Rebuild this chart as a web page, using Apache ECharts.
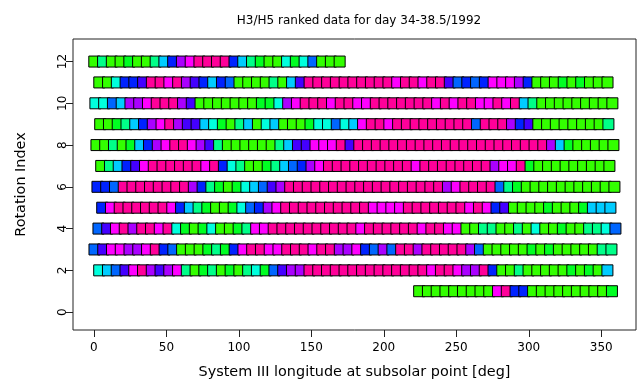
<!DOCTYPE html>
<html>
<head>
<meta charset="utf-8">
<script src="https://cdn.jsdelivr.net/npm/echarts@6/dist/echarts.min.js"></script>
<style>
  html, body { margin: 0; padding: 0; background: #fff; }
  #chart { width: 637px; height: 384px; }
</style>
</head>
<body>
<div id="chart"></div>
<script>
// H3/H5 ratio ranks (1 = lowest ... 11 = highest), one array per Jupiter rotation,
// samples every 10 minutes starting at the listed subsolar System III longitude.
const rotationIndex = [1, 2, 3, 4, 5, 6, 7, 8, 9, 10, 11, 12];
const rotationStartLon = [224.4, 3.66, 0.4, 3.14, 5.73, 2.45, 5.04, 1.76, 4.35, 1.04, 3.73, 0.28];
const lonStep = 6.045; // degrees of rotation per sample

const rot1 = [1,1,1,1,1,1,1,1,1,10,11,7,7,1,1,1,1,1,1,1,1,1,2];
const rot2 = [4,5,6,8,10,11,9,8,9,10,3,1,2,3,1,2, 1,3,4,2,6,8,9,9,11,11,11,11,11,11,11,11,
  11,11,11,11,11,11,10,11,11,10,9,9,11,7,1,1,3,1, 1,1,1,1,2,1,2,1,5];
const rot3 = [6,8,10,10,9,9,10,11,7,6,1,1,1,2,3,2, 7,10,11,11,10,10,11,11,11,10,11,11,9,9,10,7,6,
  9,6,11,11,9,11,11,11,11,11,9,6, 1,1,1,1,1,2,1,2,1,1,1,1,1,3,3];
const rot4 = [6,8,10,11,9,11,11,10,11,4,2,1,2,4,1,1, 2,3,10,10,11,11,11,11,11,11,11,11,11,11,
  10,11,11,11,11,11,11,10,11,11,10,10, 1,1,3,3,1,1,3,1, 4,1,1,2,1,1,3,3,4,6];
const rot5 = [7,10,11,11,11,11,11,11,10,7,5,3,2,1,1,2, 4,6,7,9,10,11,11,11,11,11,11,11,11,11,11,10,10,
  10,10,11,11,11,11,11,11,11,10,11,10,7,8,1,1, 1,1,2,1,1,1,2,5,5,5];
const rot6 = [7,7,6,11,11,11,11,11,11,11,11,9,7,3,2,1, 2,4,5,6,8,9,11,11,11,11,11,11,11,11,11,11,11,
  11,11,11,11,11,11,11,9,10,11,11,11,11,6,3,2,1, 1,1,1,1,1,1,1,1,1,1];
const rot7 = [1,3,5,7,8,10,11,11,11,11,11,11,10,11,7, 4,3,1,1,2,3,5,6,7,9,10,11,11,11,11,11,11,11,
  11,11,11,10,11,11,11,11,11,11,11,11,9,10,10,11, 2,1,1,1,1,1,1,1,1,1];
const rot8 = [1,1,3,1,2,5,7,9,10,11,11,10,9,8,3,1, 1,1,1,1,1,3,5,8,8,10,10,10,11,8,11,11,11,
  11,11,11,11,11,11,11,11,11,11,11,11,11,11,11,11,11,11,11, 9,5,2,1,1,1,1,1];
const rot9 = [1,1,2,3,5,7,9,10,11,9,8,8,5,4,2, 1,3,5,1,4,5,1,1,1,2,4,4,6,4,5,
  10,11,11,10,11,11,11,11,11,11,11,11,11,6,11,11,11,9,7,8, 1,1,1,1,1,1,1,1,3];
const rot10 = [4,4,6,5,9,9,10,11,11,11,9,8,1,1,1,1, 1,1,1,2,2,4,9,10,11,11,11,10,11,11,10,10,11,
  11,11,11,11,11,11,10,11,10,11,11,10,10,11,10,11, 5,3,1,1,1,1,1,1,1,1,1];
const rot11 = [1,1,4,7,7,8,11,11,10,11,9,8,7,5,7,6, 1,1,1,1,3,1,5,8, 11,11,11,11,11,11,11,11,11,11,
  10,11,11,10,11,11,8,6,7,6,7,10,10,10,9,7, 1,1,1,2,1,2,1,1,1];
const rot12 = [1,3,1,1,2,1,1,3,5,7,9,10,11,11,11,11,7,5,3,2,1,1,4,2,4,6,1,1,1];

const rotations = [rot1, rot2, rot3, rot4, rot5, rot6, rot7, rot8, rot9, rot10, rot11, rot12];

const xTicks = [0, 50, 100, 150, 200, 250, 300, 350];
const yTicks = [0, 2, 4, 6, 8, 10, 12];

// rank colour scale, green (low) through blue to pink (high)
const rankColors = ['#33ff00', '#00ff22', '#00ff88', '#00ffdd', '#00ccff', '#0066ff',
                    '#0022ff', '#4400ff', '#aa00ff', '#ff00ff', '#ff0099'];

const points = [];
rotations.forEach((ranks, r) => {
  ranks.forEach((rank, k) => {
    points.push([rotationStartLon[r] + k * lonStep, rotationIndex[r], rank]);
  });
});

const font = 'DejaVu Sans';
const chart = echarts.init(document.getElementById('chart'), null, { renderer: 'canvas' });
chart.setOption({
  animation: false,
  backgroundColor: '#fff',
  title: {
    text: 'H3/H5 ranked data for day 34-38.5/1992',
    left: 354, top: 10, textAlign: 'center',
    textStyle: { fontFamily: font, fontSize: 12, fontWeight: 'normal', color: '#000' }
  },
  grid: {
    left: 73, right: 1, top: 39, bottom: 52,
    show: true, borderColor: '#222', borderWidth: 1, backgroundColor: 'transparent'
  },
  xAxis: {
    type: 'value', min: -14.42, max: 373.99,
    name: 'System III longitude at subsolar point [deg]',
    nameLocation: 'middle', nameGap: 35,
    nameTextStyle: { fontFamily: font, fontSize: 14.4, color: '#000' },
    axisLine: { show: false, onZero: false },
    splitLine: { show: false },
    axisTick: { show: true, customValues: xTicks, length: 7, lineStyle: { color: '#222' } },
    axisLabel: { customValues: xTicks, margin: 12, fontFamily: font, fontSize: 12, color: '#000' }
  },
  yAxis: {
    type: 'value', min: -0.857, max: 13.08, position: 'left', offset: 0,
    name: 'Rotation Index',
    nameLocation: 'middle', nameGap: 45,
    nameTextStyle: { fontFamily: font, fontSize: 14.4, color: '#000' },
    axisLine: { show: false, onZero: false },
    splitLine: { show: false },
    axisTick: { show: true, customValues: yTicks, length: 7, lineStyle: { color: '#222' } },
    axisLabel: { customValues: yTicks, rotate: 90, margin: 16, fontFamily: font, fontSize: 12,
                 color: '#000', align: 'center', verticalAlign: 'top' }
  },
  series: [{
    type: 'scatter',
    symbol: 'rect',
    symbolSize: 11,
    data: points,
    itemStyle: {
      color: p => rankColors[p.value[2] - 1],
      borderColor: '#000',
      borderWidth: 1,
      opacity: 1
    },
    emphasis: { disabled: true }
  }]
});
</script>
</body>
</html>
